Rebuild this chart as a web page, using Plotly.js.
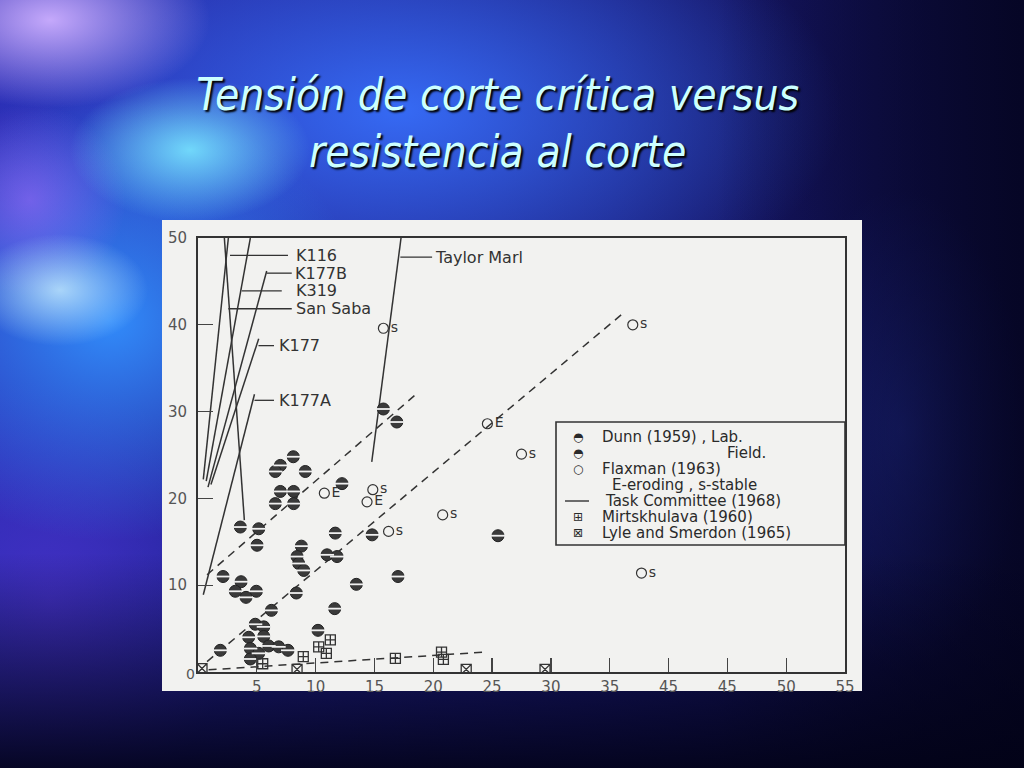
<!DOCTYPE html>
<html><head><meta charset="utf-8">
<script src="https://cdn.plot.ly/plotly-3.0.1.min.js"></script>
<style>
html,body{margin:0;padding:0;width:1024px;height:768px;overflow:hidden;}
body{
background:
 linear-gradient(180deg, rgba(0,0,20,0) 72%, rgba(2,2,22,0.9) 100%),
 linear-gradient(90deg, rgba(0,0,20,0) 70%, rgba(4,4,30,0.75) 100%),
 radial-gradient(ellipse 110px 70px at 60px 290px, rgba(210,245,255,0.75), rgba(210,245,255,0) 80%),
 radial-gradient(ellipse 150px 90px at 190px 150px, rgba(120,230,255,0.9), rgba(120,230,255,0) 80%),
 radial-gradient(ellipse 200px 110px at 50px 20px, rgba(205,175,255,0.95), rgba(205,175,255,0) 80%),
 radial-gradient(ellipse 120px 120px at 30px 200px, rgba(170,110,255,0.55), rgba(170,110,255,0) 80%),
 radial-gradient(ellipse 300px 260px at 110px 320px, rgba(50,145,255,0.95), rgba(50,145,255,0) 85%),
 radial-gradient(ellipse 520px 270px at 400px 110px, rgba(55,110,250,0.95), rgba(55,110,250,0) 85%),
 radial-gradient(ellipse 220px 260px at 50px 600px, rgba(70,50,200,0.85), rgba(70,50,200,0) 85%),
 radial-gradient(ellipse 160px 300px at 900px 430px, rgba(40,60,180,0.45), rgba(40,60,180,0) 80%),
 linear-gradient(90deg, #2a2ab0 0%, #1a1a78 60%, #0c0c3c 100%);
}
#chart{width:1024px;height:768px;}
</style></head><body><div id="chart"></div>
<script>
// ---- data ----
const dunnX = [7.0, 6.57, 9.12, 7.0, 8.13, 12.24, 6.57, 8.13, 3.6, 5.16, 11.67, 14.8, 5.02, 8.79, 8.42, 10.97, 11.82, 8.56, 8.99, 2.13, 3.66, 3.17, 4.96, 4.08, 8.36, 13.46, 17.0, 6.24, 11.62, 4.87, 5.59, 4.31, 5.59, 10.2, 1.9, 4.45, 5.16, 6.01, 6.86, 7.65, 4.45, 15.76, 16.9, 8.1, 25.5];
const dunnY = [23.8, 23.1, 23.1, 20.8, 20.8, 21.7, 19.4, 19.4, 16.7, 16.5, 16.0, 15.8, 14.6, 14.5, 13.3, 13.5, 13.3, 12.5, 11.7, 11.0, 10.4, 9.3, 9.3, 8.6, 9.1, 10.1, 11.0, 7.1, 7.3, 5.5, 5.2, 4.0, 4.1, 4.8, 2.5, 2.7, 2.15, 3.0, 2.9, 2.5, 1.5, 30.3, 28.8, 24.8, 15.7];

const flaxX = [15.76, 36.96, 24.6, 27.5, 10.74, 14.86, 14.37, 16.2, 20.8, 37.7];
const flaxY = [39.6, 40.0, 28.6, 25.1, 20.6, 21.0, 19.6, 16.2, 18.1, 11.4];
const flaxTag = ["s", "s", "E", "s", "E", "s", "E", "s", "s", "s"];

const mirtX = [5.5, 8.95, 10.26, 11.25, 10.91, 16.78, 20.7, 20.86];
const mirtY = [0.95, 1.77, 2.9, 3.7, 2.15, 1.57, 2.3, 1.46];

const lyleX = [0.34, 8.42, 22.8, 29.5];
const lyleY = [0.4, 0.3, 0.3, 0.3];

const taskNames = ["K116", "K177B", "K319", "San Saba", "K177", "K177A", "Taylor Marl"];
const taskX0 = [0.45, 0.85, 0.7, 3.94, 1.1, 0.45, 14.77];
const taskY0 = [22.2, 21.3, 22.0, 17.5, 21.6, 8.9, 24.2];
const taskX1 = [2.58, 5.84, 4.45, 2.24, 5.16, 4.8, 17.26];
const taskY1 = [50, 46.2, 50, 50, 38.4, 32.0, 50];
const leaderX0 = [2.72, 5.84, 3.72, 2.58, 5.14, 4.8, 17.2];
const leaderX1 = [7.65, 7.97, 7.12, 7.97, 6.46, 6.46, 19.9];
const labelX = [8.2, 8.05, 8.2, 8.2, 6.75, 6.75, 19.95];
const labelY = [48.0, 45.95, 43.9, 41.85, 37.6, 31.3, 47.8];

const envX0 = [0.77, 0.77, 0.9];
const envY0 = [11.2, 1.2, 0.25];
const envX1 = [18.45, 36.2, 24.5];
const envY1 = [31.9, 41.4, 2.3];

const xTickVals = [5, 10, 15, 20, 25, 30, 35, 40, 45, 50, 55];
const xTickText = ["5", "10", "15", "20", "25", "30", "35", "45", "45", "50", "55"];
const yTickVals = [10, 20, 30, 40, 50];
const yTickText = ["10", "20", "30", "40", "50"];

const legendItems = ["Dunn (1959) , Lab.", "Field.", "Flaxman (1963)", "E-eroding , s-stable", "Task Committee (1968)", "Mirtskhulava (1960)", "Lyle and Smerdon (1965)"];

// ---- layout helpers (pixel -> paper) ----
const L = 198, R = 845, T = 238, B = 672;
const px = v => (v - L) / (R - L);
const py = v => (B - v) / (B - T);
const ink = '#333333';
const font = 'DejaVu Sans, Verdana, sans-serif';

const traces = [];
taskNames.forEach((n, i) => {
  traces.push({type: 'scatter', mode: 'lines', x: [taskX0[i], taskX1[i]], y: [taskY0[i], taskY1[i]],
    line: {color: ink, width: 1.5}, hoverinfo: 'skip', showlegend: false});
  traces.push({type: 'scatter', mode: 'lines', x: [leaderX0[i], leaderX1[i]], y: [labelY[i], labelY[i]],
    line: {color: ink, width: 1.3}, hoverinfo: 'skip', showlegend: false});
});
envX0.forEach((v, i) => {
  traces.push({type: 'scatter', mode: 'lines', x: [envX0[i], envX1[i]], y: [envY0[i], envY1[i]],
    line: {color: ink, width: 1.5, dash: '8px,6px'}, hoverinfo: 'skip', showlegend: false});
});
traces.push({type: 'scatter', mode: 'markers', x: dunnX, y: dunnY, showlegend: false,
  marker: {symbol: 'circle', size: 12, color: '#3a3a3a', line: {color: '#222', width: 1}}});
traces.push({type: 'scatter', mode: 'markers', x: dunnX, y: dunnY, showlegend: false,
  marker: {symbol: 'line-ew', size: 10, line: {color: '#f0f0f0', width: 1.8}}});
traces.push({type: 'scatter', mode: 'markers+text', x: flaxX, y: flaxY, text: flaxTag, showlegend: false,
  textposition: 'middle right',
  textfont: {family: font, size: 14, color: ink},
  marker: {symbol: 'circle-open', size: 10, color: ink, line: {width: 1.2}}});
traces.push({type: 'scatter', mode: 'markers', x: mirtX, y: mirtY, showlegend: false,
  marker: {symbol: 'square-cross-open', size: 10, color: ink, line: {width: 1.3}}});
traces.push({type: 'scatter', mode: 'markers', x: lyleX, y: lyleY, showlegend: false,
  marker: {symbol: 'square-x-open', size: 10, color: ink, line: {width: 1.3}}});

const annotations = [];
taskNames.forEach((n, i) => annotations.push({x: labelX[i], y: labelY[i], xref: 'x', yref: 'y', text: n,
  showarrow: false, xanchor: 'left', yanchor: 'middle', font: {family: font, size: 16, color: ink}}));
annotations.push({x: px(184), y: py(684), xref: 'paper', yref: 'paper', text: '0', showarrow: false,
  font: {family: font, size: 14, color: '#555'}});

// legend (manual, like the original figure)
const legRows = [437, 453, 469, 485, 501, 517, 533];
const legTextX = [600, 725, 600, 610, 603, 600, 600];
const legSym = ['◓', '◓', '○', '', '', '⊞', '⊠'];
legendItems.forEach((t, i) => {
  annotations.push({x: px(legTextX[i]), y: py(legRows[i]), xref: 'paper', yref: 'paper', text: t, showarrow: false,
    xanchor: 'left', yanchor: 'middle', font: {family: font, size: 15, color: '#2a2a2a'}});
  if (legSym[i]) annotations.push({x: px(578), y: py(legRows[i]), xref: 'paper', yref: 'paper', text: legSym[i],
    showarrow: false, xanchor: 'center', yanchor: 'middle', font: {family: 'DejaVu Sans', size: 12, color: '#2a2a2a'}});
});

const shapes = [
  {type: 'rect', xref: 'paper', yref: 'paper', x0: px(162), x1: px(862), y0: py(691), y1: py(220),
    fillcolor: '#f2f2f0', line: {width: 0}, layer: 'below'},
  {type: 'rect', xref: 'paper', yref: 'paper', x0: px(556), x1: 1, y0: py(545), y1: py(422),
    fillcolor: 'rgba(0,0,0,0)', line: {color: ink, width: 1.6}},
  {type: 'line', xref: 'paper', yref: 'paper', x0: px(565), x1: px(589), y0: py(501), y1: py(501),
    line: {color: ink, width: 1.4}}
];

const layout = {
  width: 1024, height: 768,
  margin: {l: L, r: 1024 - R, t: T, b: 768 - B, pad: 0},
  paper_bgcolor: 'rgba(0,0,0,0)', plot_bgcolor: 'rgba(0,0,0,0)',
  showlegend: false,
  title: {text: 'Tensión de corte crítica versus<br>resistencia al corte',
    x: 0.486, xanchor: 'center', y: 1 - 110 / 768, yanchor: 'top', yref: 'container',
    font: {family: 'DejaVu Sans Condensed, Liberation Sans Narrow, DejaVu Sans, sans-serif', size: 44, color: '#ccffff', style: 'italic',
      shadow: '2px 2px 2px #000'}},
  xaxis: {range: [0, 55], tickvals: xTickVals, ticktext: xTickText, ticks: 'inside', ticklen: 14, tickwidth: 1.3,
    tickcolor: '#444', showgrid: false, zeroline: false, showline: true, mirror: true, linecolor: ink, linewidth: 2,
    tickfont: {family: font, size: 15, color: '#555'}, fixedrange: true},
  yaxis: {range: [0, 50], tickvals: yTickVals, ticktext: yTickText, ticks: 'inside', ticklen: 15, tickwidth: 1.3,
    tickcolor: '#444', showgrid: false, zeroline: false, showline: true, mirror: true, linecolor: ink, linewidth: 2,
    tickfont: {family: font, size: 15, color: '#555'}, ticklabelstandoff: 6, fixedrange: true},
  annotations: annotations,
  shapes: shapes
};
Plotly.newPlot('chart', traces, layout, {displayModeBar: false, staticPlot: true});
</script>
</body></html>
